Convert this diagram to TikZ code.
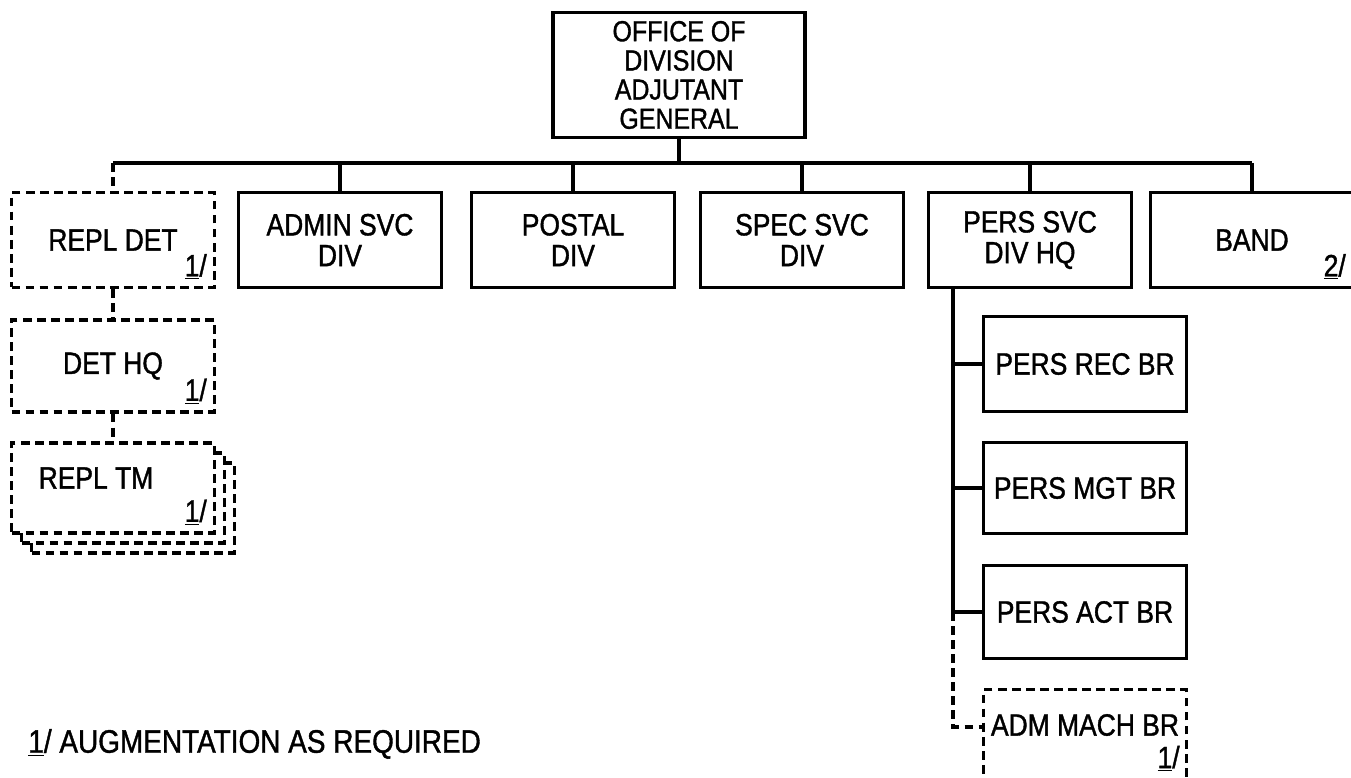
\documentclass[tikz,border=0pt]{standalone}
\usepackage{fontspec}
\setmainfont{Liberation Sans}[FakeStretch=0.86,FakeBold=1.2]
\usetikzlibrary{positioning,calc}
\newcommand{\fnote}[1]{\underline{#1}/}
\newcommand{\lett}{\fontsize{17.5}{17.5}\selectfont}
\tikzset{
  unit/.style={draw,line width=1.9pt,minimum width=4.06cm,minimum height=1.9cm,
               inner sep=0pt,align=center,font=\lett,fill=white},
  augunit/.style={unit,dash pattern=on 5pt off 3pt},
  link/.style={line width=1.9pt},
  auglink/.style={link,dash pattern=on 5pt off 3pt},
  fnmark/.style={inner sep=0pt,anchor=south east,font=\lett,
                 xshift=-0.18cm,yshift=0.18cm},
  lbl/.style={inner sep=0pt,font=\lett},
}
\begin{document}
\begin{tikzpicture}[x=0.02cm,y=-0.02cm]
  \useasboundingbox (0,0) rectangle (1351,777);
  % head office
  \node[unit,minimum width=5.04cm,minimum height=2.5cm,
        font=\fontsize{16.5}{16.6}\selectfont] (ag) at (679,75)
        {OFFICE OF\\DIVISION\\ADJUTANT\\GENERAL};
  % first row
  \node[augunit] (repldet) at (113,240) {REPL DET};
  \node[unit] (admin)  at (340,240) {ADMIN SVC\\DIV};
  \node[unit] (postal) at (573,240) {POSTAL\\DIV};
  \node[unit] (spec)   at (802,240) {SPEC SVC\\DIV};
  \node[unit] (pers)   at (1030,240) {PERS SVC\\DIV HQ};
  \node[unit] (band)   at (1252,240) {BAND};
  \node[fnmark] (fnrd) at (repldet.south east) {\fnote{1}};
  \node[fnmark] (fnband) at (band.south east) {\fnote{2}};
  % replacement column
  \node[augunit,minimum height=1.84cm] (dethq) at (113,366) {DET HQ};
  \node[fnmark] (fndh) at (dethq.south east) {\fnote{1}};
  \node[augunit,minimum height=1.8cm] (repltm3) at (133,508) {};
  \node[augunit,minimum height=1.8cm] (repltm2) at (123,498) {};
  \node[augunit,minimum height=1.8cm] (repltm) at (113,488) {};
  \node[lbl] (repltmtxt) at (96,478) {REPL TM};
  \node[fnmark] (fnrt) at (repltm.south east) {\fnote{1}};
  % personnel branches
  \node[unit] (recbr) at (1085,364) {PERS REC BR};
  \node[unit,minimum height=1.82cm] (mgtbr) at (1085,488) {PERS MGT BR};
  \node[unit,minimum height=1.86cm] (actbr) at (1085,612) {PERS ACT BR};
  \node[augunit] (admbr) at (1085,737) {};
  \node[lbl] (admtxt) at (1085,725) {ADM MACH BR};
  \node[lbl,anchor=south east] (fnadm) at (1180,772) {\fnote{1}};
  % footnote
  \node[lbl,anchor=west,font=\fontsize{18.5}{18.5}\selectfont] (legend) at (28,744)
       {\fnote{1} AUGMENTATION\ AS REQUIRED};
  % connectors
  \coordinate (bus) at (679,163);
  \draw[link] (ag.south) -- (bus);
  \draw[link] (repldet.north |- bus) -- (band.north |- bus);
  \foreach \u in {admin,postal,spec,pers,band}
    \draw[link] (\u.north |- bus) -- (\u.north);
  \draw[auglink] (repldet.north |- bus) -- (repldet.north);
  \draw[auglink] (repldet.south) -- (dethq.north);
  \draw[auglink] (dethq.south) -- (repltm.north);
  \coordinate (tk) at (953,287);
  \coordinate (tkend) at (953,727);
  \draw[link] (tk) |- (recbr.west);
  \draw[link] (tk) |- (mgtbr.west);
  \draw[link] (tk) |- (actbr.west);
  \draw[auglink] (tk |- actbr.west) -- (tkend) -- (tkend -| admbr.west);
\end{tikzpicture}
\end{document}
